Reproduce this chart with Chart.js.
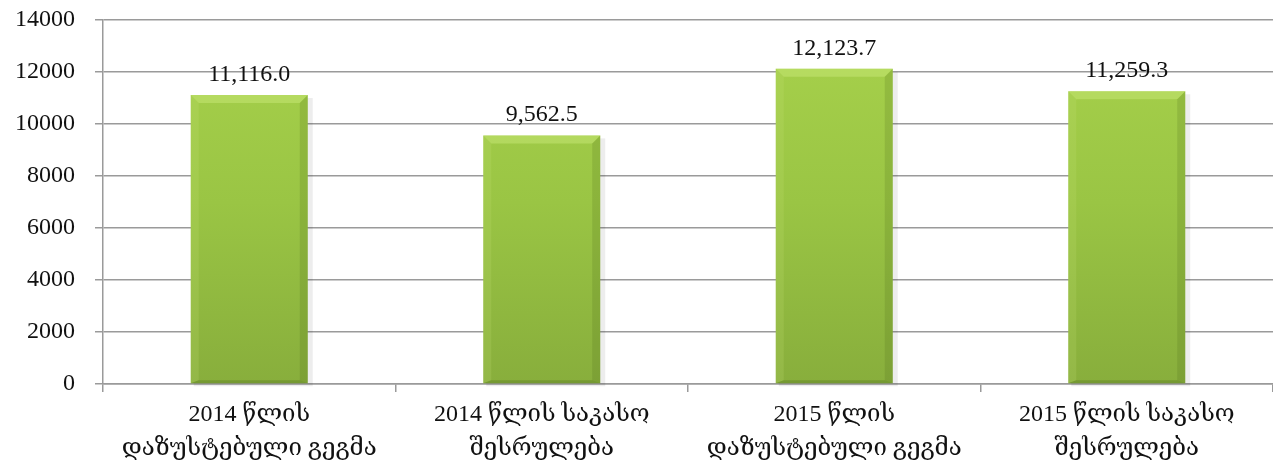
<!DOCTYPE html>
<html>
<head>
<meta charset="utf-8">
<script src="https://cdn.jsdelivr.net/npm/chart.js@4/dist/chart.umd.min.js"></script>
<style>
  html, body { margin: 0; padding: 0; background: #fff; }
  #wrap { width: 1273px; height: 476px; }
</style>
</head>
<body>
<div id="wrap"><canvas id="budgetChart"></canvas></div>
<script>
// Categories (two-line labels) and values
const categories = [
  ['2014 წლის', 'დაზუსტებული გეგმა'],
  ['2014 წლის საკასო', 'შესრულება'],
  ['2015 წლის', 'დაზუსტებული გეგმა'],
  ['2015 წლის საკასო', 'შესრულება']
];
const values = [11116.0, 9562.5, 12123.7, 11259.3];
const yTicks = [0, 2000, 4000, 6000, 8000, 10000, 12000, 14000];

const FONT = '"Liberation Serif", "DejaVu Serif", serif';
const gridColor = '#9a9a9a';

// Value labels above bars
const valueLabels = {
  id: 'valueLabels',
  afterDatasetsDraw(chart) {
    const ctx = chart.ctx;
    const meta = chart.getDatasetMeta(0);
    ctx.save();
    ctx.font = '24px ' + FONT;
    ctx.fillStyle = '#111';
    ctx.textAlign = 'center';
    ctx.textBaseline = 'alphabetic';
    meta.data.forEach((bar, i) => {
      const txt = values[i].toLocaleString('en-US', { minimumFractionDigits: 1, maximumFractionDigits: 1 });
      ctx.fillText(txt, bar.x, bar.y - 14);
    });
    ctx.restore();
  }
};

// Bevel look on the bars
const bevel = {
  id: 'bevel',
  beforeDatasetsDraw(chart) {
    const ctx = chart.ctx;
    const meta = chart.getDatasetMeta(0);
    ctx.save();
    meta.data.forEach(bar => {
      const l = bar.x - bar.width / 2, r = bar.x + bar.width / 2;
      ctx.fillStyle = 'rgba(0,0,0,0.07)';
      ctx.fillRect(l + 3, bar.y + 3, r - l + 2, bar.base - bar.y);
    });
    ctx.restore();
  },
  afterDatasetsDraw(chart) {
    const ctx = chart.ctx;
    const meta = chart.getDatasetMeta(0);
    ctx.save();
    meta.data.forEach(bar => {
      const l = bar.x - bar.width / 2, r = bar.x + bar.width / 2;
      const t = bar.y, b = bar.base, d = 8;
      // top bevel
      ctx.fillStyle = 'rgba(205,235,125,0.45)';
      ctx.beginPath();
      ctx.moveTo(l, t); ctx.lineTo(r, t); ctx.lineTo(r - d, t + d); ctx.lineTo(l + d, t + d);
      ctx.closePath(); ctx.fill();
      // right bevel
      ctx.fillStyle = 'rgba(70,100,20,0.18)';
      ctx.beginPath();
      ctx.moveTo(r, t); ctx.lineTo(r, b); ctx.lineTo(r - d, b - 3); ctx.lineTo(r - d, t + d);
      ctx.closePath(); ctx.fill();
      // left bevel
      ctx.fillStyle = 'rgba(200,230,120,0.18)';
      ctx.beginPath();
      ctx.moveTo(l, t); ctx.lineTo(l + d, t + d); ctx.lineTo(l + d, b - 3); ctx.lineTo(l, b);
      ctx.closePath(); ctx.fill();
      // bottom bevel
      ctx.fillStyle = 'rgba(60,90,20,0.25)';
      ctx.beginPath();
      ctx.moveTo(l, b); ctx.lineTo(l + d, b - 3); ctx.lineTo(r - d, b - 3); ctx.lineTo(r, b);
      ctx.closePath(); ctx.fill();
    });
    ctx.restore();
  }
};

function barGradient(context) {
  const area = context.chart.chartArea;
  if (!area) return '#9cc643';
  const g = context.chart.ctx.createLinearGradient(0, area.top, 0, area.bottom);
  g.addColorStop(0, '#a8d24c');
  g.addColorStop(0.5, '#9ac544');
  g.addColorStop(1, '#88ae3c');
  return g;
}

const ctx = document.getElementById('budgetChart').getContext('2d');
new Chart(ctx, {
  type: 'bar',
  data: {
    labels: categories,
    datasets: [{
      data: values,
      backgroundColor: barGradient,
      borderWidth: 0,
      barPercentage: 0.4,
      categoryPercentage: 1.0
    }]
  },
  options: {
    responsive: true,
    maintainAspectRatio: false,
    animation: false,
    layout: { padding: { top: 20, right: 0, bottom: 0, left: 0 } },
    plugins: {
      legend: { display: false },
      tooltip: { enabled: false }
    },
    scales: {
      y: {
        min: 0,
        max: 14000,
        afterFit(scale) {
          scale.width = 103;
          scale.paddingTop = 0;
          scale.paddingBottom = 0;
        },
        afterBuildTicks(scale) { scale.ticks = yTicks.map(v => ({ value: v })); },
        ticks: {
          color: '#111',
          padding: 20,
          font: { family: FONT, size: 24 },
          callback: v => String(v)
        },
        grid: { color: gridColor, lineWidth: 1.5, tickLength: 8 },
        border: { color: gridColor, width: 1.5 }
      },
      x: {
        afterFit(scale) {
          scale.height = 92;
          scale.paddingLeft = 0;
          scale.paddingRight = 0;
        },
        ticks: {
          color: '#111',
          padding: 6,
          maxRotation: 0,
          autoSkip: false,
          font: { family: FONT, size: 24, lineHeight: 1.4 }
        },
        grid: { drawOnChartArea: false, color: gridColor, lineWidth: 1.5, tickLength: 8, offset: true },
        border: { color: gridColor, width: 1.5 }
      }
    }
  },
  plugins: [bevel, valueLabels]
});
</script>
</body>
</html>
